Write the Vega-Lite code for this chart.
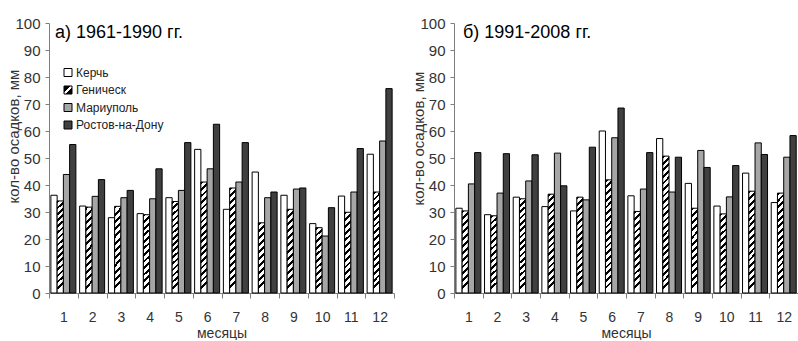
{
  "$schema": "https://vega.github.io/schema/vega-lite/v6.json",
  "background": "white",
  "padding": {"left": 6, "top": 16, "right": 0, "bottom": 0},
  "spacing": 16,
  "config": {
    "font": "Liberation Sans",
    "view": {"stroke": null},
    "axis": {
      "grid": false,
      "labelColor": "#333",
      "titleColor": "#333",
      "titleFontWeight": "normal",
      "domainColor": "#7f7f7f",
      "tickColor": "#7f7f7f"
    }
  },
  "datasets": {
    "precip": [
      {"period": "1961-1990", "month": 1, "station": "Керчь", "mm": 36.2},
      {"period": "1961-1990", "month": 1, "station": "Геническ", "mm": 34.1},
      {"period": "1961-1990", "month": 1, "station": "Мариуполь", "mm": 43.9},
      {"period": "1961-1990", "month": 1, "station": "Ростов-на-Дону", "mm": 55.0},
      {"period": "1961-1990", "month": 2, "station": "Керчь", "mm": 32.2},
      {"period": "1961-1990", "month": 2, "station": "Геническ", "mm": 31.8},
      {"period": "1961-1990", "month": 2, "station": "Мариуполь", "mm": 35.8},
      {"period": "1961-1990", "month": 2, "station": "Ростов-на-Дону", "mm": 42.0},
      {"period": "1961-1990", "month": 3, "station": "Керчь", "mm": 27.9},
      {"period": "1961-1990", "month": 3, "station": "Геническ", "mm": 32.1},
      {"period": "1961-1990", "month": 3, "station": "Мариуполь", "mm": 35.3},
      {"period": "1961-1990", "month": 3, "station": "Ростов-на-Дону", "mm": 38.0},
      {"period": "1961-1990", "month": 4, "station": "Керчь", "mm": 29.4},
      {"period": "1961-1990", "month": 4, "station": "Геническ", "mm": 29.0},
      {"period": "1961-1990", "month": 4, "station": "Мариуполь", "mm": 34.9},
      {"period": "1961-1990", "month": 4, "station": "Ростов-на-Дону", "mm": 46.0},
      {"period": "1961-1990", "month": 5, "station": "Керчь", "mm": 35.3},
      {"period": "1961-1990", "month": 5, "station": "Геническ", "mm": 33.9},
      {"period": "1961-1990", "month": 5, "station": "Мариуполь", "mm": 38.0},
      {"period": "1961-1990", "month": 5, "station": "Ростов-на-Дону", "mm": 55.7},
      {"period": "1961-1990", "month": 6, "station": "Керчь", "mm": 53.2},
      {"period": "1961-1990", "month": 6, "station": "Геническ", "mm": 41.1},
      {"period": "1961-1990", "month": 6, "station": "Мариуполь", "mm": 46.0},
      {"period": "1961-1990", "month": 6, "station": "Ростов-на-Дону", "mm": 62.5},
      {"period": "1961-1990", "month": 7, "station": "Керчь", "mm": 31.0},
      {"period": "1961-1990", "month": 7, "station": "Геническ", "mm": 38.9},
      {"period": "1961-1990", "month": 7, "station": "Мариуполь", "mm": 41.1},
      {"period": "1961-1990", "month": 7, "station": "Ростов-на-Дону", "mm": 55.7},
      {"period": "1961-1990", "month": 8, "station": "Керчь", "mm": 44.8},
      {"period": "1961-1990", "month": 8, "station": "Геническ", "mm": 26.0},
      {"period": "1961-1990", "month": 8, "station": "Мариуполь", "mm": 35.3},
      {"period": "1961-1990", "month": 8, "station": "Ростов-на-Дону", "mm": 37.4},
      {"period": "1961-1990", "month": 9, "station": "Керчь", "mm": 36.2},
      {"period": "1961-1990", "month": 9, "station": "Геническ", "mm": 31.0},
      {"period": "1961-1990", "month": 9, "station": "Мариуполь", "mm": 38.5},
      {"period": "1961-1990", "month": 9, "station": "Ростов-на-Дону", "mm": 38.9},
      {"period": "1961-1990", "month": 10, "station": "Керчь", "mm": 25.7},
      {"period": "1961-1990", "month": 10, "station": "Геническ", "mm": 24.2},
      {"period": "1961-1990", "month": 10, "station": "Мариуполь", "mm": 21.1},
      {"period": "1961-1990", "month": 10, "station": "Ростов-на-Дону", "mm": 31.6},
      {"period": "1961-1990", "month": 11, "station": "Керчь", "mm": 35.9},
      {"period": "1961-1990", "month": 11, "station": "Геническ", "mm": 29.9},
      {"period": "1961-1990", "month": 11, "station": "Мариуполь", "mm": 37.4},
      {"period": "1961-1990", "month": 11, "station": "Ростов-на-Дону", "mm": 53.5},
      {"period": "1961-1990", "month": 12, "station": "Керчь", "mm": 51.4},
      {"period": "1961-1990", "month": 12, "station": "Геническ", "mm": 37.4},
      {"period": "1961-1990", "month": 12, "station": "Мариуполь", "mm": 56.3},
      {"period": "1961-1990", "month": 12, "station": "Ростов-на-Дону", "mm": 75.7},
      {"period": "1991-2008", "month": 1, "station": "Керчь", "mm": 31.4},
      {"period": "1991-2008", "month": 1, "station": "Геническ", "mm": 30.4},
      {"period": "1991-2008", "month": 1, "station": "Мариуполь", "mm": 40.4},
      {"period": "1991-2008", "month": 1, "station": "Ростов-на-Дону", "mm": 52.0},
      {"period": "1991-2008", "month": 2, "station": "Керчь", "mm": 29.0},
      {"period": "1991-2008", "month": 2, "station": "Геническ", "mm": 28.6},
      {"period": "1991-2008", "month": 2, "station": "Мариуполь", "mm": 37.0},
      {"period": "1991-2008", "month": 2, "station": "Ростов-на-Дону", "mm": 51.6},
      {"period": "1991-2008", "month": 3, "station": "Керчь", "mm": 35.5},
      {"period": "1991-2008", "month": 3, "station": "Геническ", "mm": 34.9},
      {"period": "1991-2008", "month": 3, "station": "Мариуполь", "mm": 41.5},
      {"period": "1991-2008", "month": 3, "station": "Ростов-на-Дону", "mm": 51.2},
      {"period": "1991-2008", "month": 4, "station": "Керчь", "mm": 32.0},
      {"period": "1991-2008", "month": 4, "station": "Геническ", "mm": 36.6},
      {"period": "1991-2008", "month": 4, "station": "Мариуполь", "mm": 51.8},
      {"period": "1991-2008", "month": 4, "station": "Ростов-на-Дону", "mm": 39.7},
      {"period": "1991-2008", "month": 5, "station": "Керчь", "mm": 30.4},
      {"period": "1991-2008", "month": 5, "station": "Геническ", "mm": 35.5},
      {"period": "1991-2008", "month": 5, "station": "Мариуполь", "mm": 34.5},
      {"period": "1991-2008", "month": 5, "station": "Ростов-на-Дону", "mm": 54.0},
      {"period": "1991-2008", "month": 6, "station": "Керчь", "mm": 60.0},
      {"period": "1991-2008", "month": 6, "station": "Геническ", "mm": 41.9},
      {"period": "1991-2008", "month": 6, "station": "Мариуполь", "mm": 57.5},
      {"period": "1991-2008", "month": 6, "station": "Ростов-на-Дону", "mm": 68.5},
      {"period": "1991-2008", "month": 7, "station": "Керчь", "mm": 36.0},
      {"period": "1991-2008", "month": 7, "station": "Геническ", "mm": 30.2},
      {"period": "1991-2008", "month": 7, "station": "Мариуполь", "mm": 38.5},
      {"period": "1991-2008", "month": 7, "station": "Ростов-на-Дону", "mm": 52.0},
      {"period": "1991-2008", "month": 8, "station": "Керчь", "mm": 57.2},
      {"period": "1991-2008", "month": 8, "station": "Геническ", "mm": 50.7},
      {"period": "1991-2008", "month": 8, "station": "Мариуполь", "mm": 37.4},
      {"period": "1991-2008", "month": 8, "station": "Ростов-на-Дону", "mm": 50.3},
      {"period": "1991-2008", "month": 9, "station": "Керчь", "mm": 40.6},
      {"period": "1991-2008", "month": 9, "station": "Геническ", "mm": 31.4},
      {"period": "1991-2008", "month": 9, "station": "Мариуполь", "mm": 52.8},
      {"period": "1991-2008", "month": 9, "station": "Ростов-на-Дону", "mm": 46.5},
      {"period": "1991-2008", "month": 10, "station": "Керчь", "mm": 32.2},
      {"period": "1991-2008", "month": 10, "station": "Геническ", "mm": 29.3},
      {"period": "1991-2008", "month": 10, "station": "Мариуполь", "mm": 35.6},
      {"period": "1991-2008", "month": 10, "station": "Ростов-на-Дону", "mm": 47.2},
      {"period": "1991-2008", "month": 11, "station": "Керчь", "mm": 44.4},
      {"period": "1991-2008", "month": 11, "station": "Геническ", "mm": 37.7},
      {"period": "1991-2008", "month": 11, "station": "Мариуполь", "mm": 55.6},
      {"period": "1991-2008", "month": 11, "station": "Ростов-на-Дону", "mm": 51.3},
      {"period": "1991-2008", "month": 12, "station": "Керчь", "mm": 33.5},
      {"period": "1991-2008", "month": 12, "station": "Геническ", "mm": 37.0},
      {"period": "1991-2008", "month": 12, "station": "Мариуполь", "mm": 50.3},
      {"period": "1991-2008", "month": 12, "station": "Ростов-на-Дону", "mm": 58.3}
    ]
  },
  "hconcat": [
    {
      "width": 345,
      "height": 270,
      "data": {"name": "precip"},
      "transform": [{"filter": "datum.period === '1961-1990'"}],
      "title": {"text": "а) 1961-1990 гг.", "anchor": "start", "frame": "group", "orient": "top", "fontSize": 18, "fontWeight": "normal", "color": "#000", "baseline": "alphabetic", "offset": -18, "dx": 6, "dy": 22},
      "mark": {"type": "bar", "stroke": "#000", "strokeWidth": 1},
      "encoding": {
        "x": {
          "field": "month", "type": "ordinal",
          "scale": {"paddingInner": 0, "paddingOuter": 0},
          "axis": {"title": "месяцы", "labelAngle": 0, "tickBand": "extent", "tickSize": 5, "labelFontSize": 14, "labelPadding": 12, "titleFontSize": 14, "titleY": 44, "titleBaseline": "alphabetic"}
        },
        "xOffset": {
          "field": "station", "type": "nominal",
          "scale": {"domain": ["Керчь", "Геническ", "Мариуполь", "Ростов-на-Дону"], "paddingInner": 0, "paddingOuter": 0.3}
        },
        "y": {
          "field": "mm", "type": "quantitative",
          "scale": {"domain": [0, 100], "nice": false},
          "axis": {"values": [0, 10, 20, 30, 40, 50, 60, 70, 80, 90, 100], "title": "кол-во осадков, мм", "titleFontSize": 15, "titleAngle": -90, "titleX": -31, "titleY": 113, "titleAlign": "center", "titleBaseline": "alphabetic", "labelFontSize": 15, "labelPadding": 5, "tickSize": 4}
        },
        "fill": {
          "condition": [
            {"test": "datum.station === 'Геническ' && datum.mm < 28", "value": {"gradient": "linear", "x1": 0, "y1": 0, "x2": 0.092, "y2": 1, "stops": [
              {"offset": 0, "color": "#000"}, {"offset": 0.042, "color": "#000"}, {"offset": 0.042, "color": "#fff"}, {"offset": 0.1, "color": "#fff"},
              {"offset": 0.1, "color": "#000"}, {"offset": 0.142, "color": "#000"}, {"offset": 0.142, "color": "#fff"}, {"offset": 0.2, "color": "#fff"},
              {"offset": 0.2, "color": "#000"}, {"offset": 0.242, "color": "#000"}, {"offset": 0.242, "color": "#fff"}, {"offset": 0.3, "color": "#fff"},
              {"offset": 0.3, "color": "#000"}, {"offset": 0.342, "color": "#000"}, {"offset": 0.342, "color": "#fff"}, {"offset": 0.4, "color": "#fff"},
              {"offset": 0.4, "color": "#000"}, {"offset": 0.442, "color": "#000"}, {"offset": 0.442, "color": "#fff"}, {"offset": 0.5, "color": "#fff"},
              {"offset": 0.5, "color": "#000"}, {"offset": 0.542, "color": "#000"}, {"offset": 0.542, "color": "#fff"}, {"offset": 0.6, "color": "#fff"},
              {"offset": 0.6, "color": "#000"}, {"offset": 0.642, "color": "#000"}, {"offset": 0.642, "color": "#fff"}, {"offset": 0.7, "color": "#fff"},
              {"offset": 0.7, "color": "#000"}, {"offset": 0.742, "color": "#000"}, {"offset": 0.742, "color": "#fff"}, {"offset": 0.8, "color": "#fff"},
              {"offset": 0.8, "color": "#000"}, {"offset": 0.842, "color": "#000"}, {"offset": 0.842, "color": "#fff"}, {"offset": 0.9, "color": "#fff"},
              {"offset": 0.9, "color": "#000"}, {"offset": 0.942, "color": "#000"}, {"offset": 0.942, "color": "#fff"}, {"offset": 1, "color": "#fff"}
            ]}},
            {"test": "datum.station === 'Геническ' && datum.mm < 33", "value": {"gradient": "linear", "x1": 0, "y1": 0, "x2": 0.076, "y2": 1, "stops": [
              {"offset": 0, "color": "#000"}, {"offset": 0.035, "color": "#000"}, {"offset": 0.035, "color": "#fff"}, {"offset": 0.0833, "color": "#fff"},
              {"offset": 0.0833, "color": "#000"}, {"offset": 0.1183, "color": "#000"}, {"offset": 0.1183, "color": "#fff"}, {"offset": 0.1667, "color": "#fff"},
              {"offset": 0.1667, "color": "#000"}, {"offset": 0.2017, "color": "#000"}, {"offset": 0.2017, "color": "#fff"}, {"offset": 0.25, "color": "#fff"},
              {"offset": 0.25, "color": "#000"}, {"offset": 0.285, "color": "#000"}, {"offset": 0.285, "color": "#fff"}, {"offset": 0.3333, "color": "#fff"},
              {"offset": 0.3333, "color": "#000"}, {"offset": 0.3683, "color": "#000"}, {"offset": 0.3683, "color": "#fff"}, {"offset": 0.4167, "color": "#fff"},
              {"offset": 0.4167, "color": "#000"}, {"offset": 0.4517, "color": "#000"}, {"offset": 0.4517, "color": "#fff"}, {"offset": 0.5, "color": "#fff"},
              {"offset": 0.5, "color": "#000"}, {"offset": 0.535, "color": "#000"}, {"offset": 0.535, "color": "#fff"}, {"offset": 0.5833, "color": "#fff"},
              {"offset": 0.5833, "color": "#000"}, {"offset": 0.6183, "color": "#000"}, {"offset": 0.6183, "color": "#fff"}, {"offset": 0.6667, "color": "#fff"},
              {"offset": 0.6667, "color": "#000"}, {"offset": 0.7017, "color": "#000"}, {"offset": 0.7017, "color": "#fff"}, {"offset": 0.75, "color": "#fff"},
              {"offset": 0.75, "color": "#000"}, {"offset": 0.785, "color": "#000"}, {"offset": 0.785, "color": "#fff"}, {"offset": 0.8333, "color": "#fff"},
              {"offset": 0.8333, "color": "#000"}, {"offset": 0.8683, "color": "#000"}, {"offset": 0.8683, "color": "#fff"}, {"offset": 0.9167, "color": "#fff"},
              {"offset": 0.9167, "color": "#000"}, {"offset": 0.9517, "color": "#000"}, {"offset": 0.9517, "color": "#fff"}, {"offset": 1, "color": "#fff"}
            ]}},
            {"test": "datum.station === 'Геническ' && datum.mm < 39.5", "value": {"gradient": "linear", "x1": 0, "y1": 0, "x2": 0.064, "y2": 1, "stops": [
              {"offset": 0, "color": "#000"}, {"offset": 0.028, "color": "#000"}, {"offset": 0.028, "color": "#fff"}, {"offset": 0.0667, "color": "#fff"},
              {"offset": 0.0667, "color": "#000"}, {"offset": 0.0947, "color": "#000"}, {"offset": 0.0947, "color": "#fff"}, {"offset": 0.1333, "color": "#fff"},
              {"offset": 0.1333, "color": "#000"}, {"offset": 0.1613, "color": "#000"}, {"offset": 0.1613, "color": "#fff"}, {"offset": 0.2, "color": "#fff"},
              {"offset": 0.2, "color": "#000"}, {"offset": 0.228, "color": "#000"}, {"offset": 0.228, "color": "#fff"}, {"offset": 0.2667, "color": "#fff"},
              {"offset": 0.2667, "color": "#000"}, {"offset": 0.2947, "color": "#000"}, {"offset": 0.2947, "color": "#fff"}, {"offset": 0.3333, "color": "#fff"},
              {"offset": 0.3333, "color": "#000"}, {"offset": 0.3613, "color": "#000"}, {"offset": 0.3613, "color": "#fff"}, {"offset": 0.4, "color": "#fff"},
              {"offset": 0.4, "color": "#000"}, {"offset": 0.428, "color": "#000"}, {"offset": 0.428, "color": "#fff"}, {"offset": 0.4667, "color": "#fff"},
              {"offset": 0.4667, "color": "#000"}, {"offset": 0.4947, "color": "#000"}, {"offset": 0.4947, "color": "#fff"}, {"offset": 0.5333, "color": "#fff"},
              {"offset": 0.5333, "color": "#000"}, {"offset": 0.5613, "color": "#000"}, {"offset": 0.5613, "color": "#fff"}, {"offset": 0.6, "color": "#fff"},
              {"offset": 0.6, "color": "#000"}, {"offset": 0.628, "color": "#000"}, {"offset": 0.628, "color": "#fff"}, {"offset": 0.6667, "color": "#fff"},
              {"offset": 0.6667, "color": "#000"}, {"offset": 0.6947, "color": "#000"}, {"offset": 0.6947, "color": "#fff"}, {"offset": 0.7333, "color": "#fff"},
              {"offset": 0.7333, "color": "#000"}, {"offset": 0.7613, "color": "#000"}, {"offset": 0.7613, "color": "#fff"}, {"offset": 0.8, "color": "#fff"},
              {"offset": 0.8, "color": "#000"}, {"offset": 0.828, "color": "#000"}, {"offset": 0.828, "color": "#fff"}, {"offset": 0.8667, "color": "#fff"},
              {"offset": 0.8667, "color": "#000"}, {"offset": 0.8947, "color": "#000"}, {"offset": 0.8947, "color": "#fff"}, {"offset": 0.9333, "color": "#fff"},
              {"offset": 0.9333, "color": "#000"}, {"offset": 0.9613, "color": "#000"}, {"offset": 0.9613, "color": "#fff"}, {"offset": 1, "color": "#fff"}
            ]}},
            {"test": "datum.station === 'Геническ'", "value": {"gradient": "linear", "x1": 0, "y1": 0, "x2": 0.056, "y2": 1, "stops": [
              {"offset": 0, "color": "#000"}, {"offset": 0.0247, "color": "#000"}, {"offset": 0.0247, "color": "#fff"}, {"offset": 0.0588, "color": "#fff"},
              {"offset": 0.0588, "color": "#000"}, {"offset": 0.0835, "color": "#000"}, {"offset": 0.0835, "color": "#fff"}, {"offset": 0.1176, "color": "#fff"},
              {"offset": 0.1176, "color": "#000"}, {"offset": 0.1423, "color": "#000"}, {"offset": 0.1423, "color": "#fff"}, {"offset": 0.1765, "color": "#fff"},
              {"offset": 0.1765, "color": "#000"}, {"offset": 0.2012, "color": "#000"}, {"offset": 0.2012, "color": "#fff"}, {"offset": 0.2353, "color": "#fff"},
              {"offset": 0.2353, "color": "#000"}, {"offset": 0.26, "color": "#000"}, {"offset": 0.26, "color": "#fff"}, {"offset": 0.2941, "color": "#fff"},
              {"offset": 0.2941, "color": "#000"}, {"offset": 0.3188, "color": "#000"}, {"offset": 0.3188, "color": "#fff"}, {"offset": 0.3529, "color": "#fff"},
              {"offset": 0.3529, "color": "#000"}, {"offset": 0.3776, "color": "#000"}, {"offset": 0.3776, "color": "#fff"}, {"offset": 0.4118, "color": "#fff"},
              {"offset": 0.4118, "color": "#000"}, {"offset": 0.4365, "color": "#000"}, {"offset": 0.4365, "color": "#fff"}, {"offset": 0.4706, "color": "#fff"},
              {"offset": 0.4706, "color": "#000"}, {"offset": 0.4953, "color": "#000"}, {"offset": 0.4953, "color": "#fff"}, {"offset": 0.5294, "color": "#fff"},
              {"offset": 0.5294, "color": "#000"}, {"offset": 0.5541, "color": "#000"}, {"offset": 0.5541, "color": "#fff"}, {"offset": 0.5882, "color": "#fff"},
              {"offset": 0.5882, "color": "#000"}, {"offset": 0.6129, "color": "#000"}, {"offset": 0.6129, "color": "#fff"}, {"offset": 0.6471, "color": "#fff"},
              {"offset": 0.6471, "color": "#000"}, {"offset": 0.6718, "color": "#000"}, {"offset": 0.6718, "color": "#fff"}, {"offset": 0.7059, "color": "#fff"},
              {"offset": 0.7059, "color": "#000"}, {"offset": 0.7306, "color": "#000"}, {"offset": 0.7306, "color": "#fff"}, {"offset": 0.7647, "color": "#fff"},
              {"offset": 0.7647, "color": "#000"}, {"offset": 0.7894, "color": "#000"}, {"offset": 0.7894, "color": "#fff"}, {"offset": 0.8235, "color": "#fff"},
              {"offset": 0.8235, "color": "#000"}, {"offset": 0.8482, "color": "#000"}, {"offset": 0.8482, "color": "#fff"}, {"offset": 0.8824, "color": "#fff"},
              {"offset": 0.8824, "color": "#000"}, {"offset": 0.9071, "color": "#000"}, {"offset": 0.9071, "color": "#fff"}, {"offset": 0.9412, "color": "#fff"},
              {"offset": 0.9412, "color": "#000"}, {"offset": 0.9659, "color": "#000"}, {"offset": 0.9659, "color": "#fff"}, {"offset": 1, "color": "#fff"}
            ]}}
          ],
          "field": "station", "type": "nominal",
          "scale": {"domain": ["Керчь", "Геническ", "Мариуполь", "Ростов-на-Дону"], "range": ["#ffffff", {"expr": "{gradient: 'linear', x1: 0, y1: 0, x2: 1, y2: 1, stops: [{offset: 0, color: '#000'}, {offset: 0.4, color: '#000'}, {offset: 0.4, color: '#fff'}, {offset: 0.58, color: '#fff'}, {offset: 0.58, color: '#000'}, {offset: 1, color: '#000'}]}"}, "#a6a6a6", "#404040"]},
          "legend": {
            "orient": "none", "legendX": 13, "legendY": 43.5, "title": null,
            "symbolType": "square", "symbolSize": 64, "symbolStrokeColor": "#000", "symbolStrokeWidth": 1,
            "labelFontSize": 12, "labelColor": "#222", "labelOffset": 2, "rowPadding": 5.5, "padding": 0
          }
        }
      }
    },
    {
      "width": 344,
      "height": 270,
      "data": {"name": "precip"},
      "transform": [{"filter": "datum.period === '1991-2008'"}],
      "title": {"text": "б) 1991-2008 гг.", "anchor": "start", "frame": "group", "orient": "top", "fontSize": 18, "fontWeight": "normal", "color": "#000", "baseline": "alphabetic", "offset": -18, "dx": 9, "dy": 22},
      "mark": {"type": "bar", "stroke": "#000", "strokeWidth": 1},
      "encoding": {
        "x": {
          "field": "month", "type": "ordinal",
          "scale": {"paddingInner": 0, "paddingOuter": 0},
          "axis": {"title": "месяцы", "labelAngle": 0, "tickBand": "extent", "tickSize": 5, "labelFontSize": 14, "labelPadding": 12, "titleFontSize": 14, "titleY": 44, "titleBaseline": "alphabetic"}
        },
        "xOffset": {
          "field": "station", "type": "nominal",
          "scale": {"domain": ["Керчь", "Геническ", "Мариуполь", "Ростов-на-Дону"], "paddingInner": 0, "paddingOuter": 0.3}
        },
        "y": {
          "field": "mm", "type": "quantitative",
          "scale": {"domain": [0, 100], "nice": false},
          "axis": {"values": [0, 10, 20, 30, 40, 50, 60, 70, 80, 90, 100], "title": "кол-во осадков, мм", "titleFontSize": 15, "titleAngle": -90, "titleX": -31, "titleY": 115, "titleAlign": "center", "titleBaseline": "alphabetic", "labelFontSize": 15, "labelPadding": 5, "tickSize": 4}
        },
        "fill": {
          "condition": [
            {"test": "datum.station === 'Геническ' && datum.mm < 33", "value": {"gradient": "linear", "x1": 0, "y1": 0, "x2": 0.076, "y2": 1, "stops": [
              {"offset": 0, "color": "#000"}, {"offset": 0.035, "color": "#000"}, {"offset": 0.035, "color": "#fff"}, {"offset": 0.0833, "color": "#fff"},
              {"offset": 0.0833, "color": "#000"}, {"offset": 0.1183, "color": "#000"}, {"offset": 0.1183, "color": "#fff"}, {"offset": 0.1667, "color": "#fff"},
              {"offset": 0.1667, "color": "#000"}, {"offset": 0.2017, "color": "#000"}, {"offset": 0.2017, "color": "#fff"}, {"offset": 0.25, "color": "#fff"},
              {"offset": 0.25, "color": "#000"}, {"offset": 0.285, "color": "#000"}, {"offset": 0.285, "color": "#fff"}, {"offset": 0.3333, "color": "#fff"},
              {"offset": 0.3333, "color": "#000"}, {"offset": 0.3683, "color": "#000"}, {"offset": 0.3683, "color": "#fff"}, {"offset": 0.4167, "color": "#fff"},
              {"offset": 0.4167, "color": "#000"}, {"offset": 0.4517, "color": "#000"}, {"offset": 0.4517, "color": "#fff"}, {"offset": 0.5, "color": "#fff"},
              {"offset": 0.5, "color": "#000"}, {"offset": 0.535, "color": "#000"}, {"offset": 0.535, "color": "#fff"}, {"offset": 0.5833, "color": "#fff"},
              {"offset": 0.5833, "color": "#000"}, {"offset": 0.6183, "color": "#000"}, {"offset": 0.6183, "color": "#fff"}, {"offset": 0.6667, "color": "#fff"},
              {"offset": 0.6667, "color": "#000"}, {"offset": 0.7017, "color": "#000"}, {"offset": 0.7017, "color": "#fff"}, {"offset": 0.75, "color": "#fff"},
              {"offset": 0.75, "color": "#000"}, {"offset": 0.785, "color": "#000"}, {"offset": 0.785, "color": "#fff"}, {"offset": 0.8333, "color": "#fff"},
              {"offset": 0.8333, "color": "#000"}, {"offset": 0.8683, "color": "#000"}, {"offset": 0.8683, "color": "#fff"}, {"offset": 0.9167, "color": "#fff"},
              {"offset": 0.9167, "color": "#000"}, {"offset": 0.9517, "color": "#000"}, {"offset": 0.9517, "color": "#fff"}, {"offset": 1, "color": "#fff"}
            ]}},
            {"test": "datum.station === 'Геническ' && datum.mm < 39.5", "value": {"gradient": "linear", "x1": 0, "y1": 0, "x2": 0.064, "y2": 1, "stops": [
              {"offset": 0, "color": "#000"}, {"offset": 0.028, "color": "#000"}, {"offset": 0.028, "color": "#fff"}, {"offset": 0.0667, "color": "#fff"},
              {"offset": 0.0667, "color": "#000"}, {"offset": 0.0947, "color": "#000"}, {"offset": 0.0947, "color": "#fff"}, {"offset": 0.1333, "color": "#fff"},
              {"offset": 0.1333, "color": "#000"}, {"offset": 0.1613, "color": "#000"}, {"offset": 0.1613, "color": "#fff"}, {"offset": 0.2, "color": "#fff"},
              {"offset": 0.2, "color": "#000"}, {"offset": 0.228, "color": "#000"}, {"offset": 0.228, "color": "#fff"}, {"offset": 0.2667, "color": "#fff"},
              {"offset": 0.2667, "color": "#000"}, {"offset": 0.2947, "color": "#000"}, {"offset": 0.2947, "color": "#fff"}, {"offset": 0.3333, "color": "#fff"},
              {"offset": 0.3333, "color": "#000"}, {"offset": 0.3613, "color": "#000"}, {"offset": 0.3613, "color": "#fff"}, {"offset": 0.4, "color": "#fff"},
              {"offset": 0.4, "color": "#000"}, {"offset": 0.428, "color": "#000"}, {"offset": 0.428, "color": "#fff"}, {"offset": 0.4667, "color": "#fff"},
              {"offset": 0.4667, "color": "#000"}, {"offset": 0.4947, "color": "#000"}, {"offset": 0.4947, "color": "#fff"}, {"offset": 0.5333, "color": "#fff"},
              {"offset": 0.5333, "color": "#000"}, {"offset": 0.5613, "color": "#000"}, {"offset": 0.5613, "color": "#fff"}, {"offset": 0.6, "color": "#fff"},
              {"offset": 0.6, "color": "#000"}, {"offset": 0.628, "color": "#000"}, {"offset": 0.628, "color": "#fff"}, {"offset": 0.6667, "color": "#fff"},
              {"offset": 0.6667, "color": "#000"}, {"offset": 0.6947, "color": "#000"}, {"offset": 0.6947, "color": "#fff"}, {"offset": 0.7333, "color": "#fff"},
              {"offset": 0.7333, "color": "#000"}, {"offset": 0.7613, "color": "#000"}, {"offset": 0.7613, "color": "#fff"}, {"offset": 0.8, "color": "#fff"},
              {"offset": 0.8, "color": "#000"}, {"offset": 0.828, "color": "#000"}, {"offset": 0.828, "color": "#fff"}, {"offset": 0.8667, "color": "#fff"},
              {"offset": 0.8667, "color": "#000"}, {"offset": 0.8947, "color": "#000"}, {"offset": 0.8947, "color": "#fff"}, {"offset": 0.9333, "color": "#fff"},
              {"offset": 0.9333, "color": "#000"}, {"offset": 0.9613, "color": "#000"}, {"offset": 0.9613, "color": "#fff"}, {"offset": 1, "color": "#fff"}
            ]}},
            {"test": "datum.station === 'Геническ' && datum.mm < 46", "value": {"gradient": "linear", "x1": 0, "y1": 0, "x2": 0.056, "y2": 1, "stops": [
              {"offset": 0, "color": "#000"}, {"offset": 0.0247, "color": "#000"}, {"offset": 0.0247, "color": "#fff"}, {"offset": 0.0588, "color": "#fff"},
              {"offset": 0.0588, "color": "#000"}, {"offset": 0.0835, "color": "#000"}, {"offset": 0.0835, "color": "#fff"}, {"offset": 0.1176, "color": "#fff"},
              {"offset": 0.1176, "color": "#000"}, {"offset": 0.1423, "color": "#000"}, {"offset": 0.1423, "color": "#fff"}, {"offset": 0.1765, "color": "#fff"},
              {"offset": 0.1765, "color": "#000"}, {"offset": 0.2012, "color": "#000"}, {"offset": 0.2012, "color": "#fff"}, {"offset": 0.2353, "color": "#fff"},
              {"offset": 0.2353, "color": "#000"}, {"offset": 0.26, "color": "#000"}, {"offset": 0.26, "color": "#fff"}, {"offset": 0.2941, "color": "#fff"},
              {"offset": 0.2941, "color": "#000"}, {"offset": 0.3188, "color": "#000"}, {"offset": 0.3188, "color": "#fff"}, {"offset": 0.3529, "color": "#fff"},
              {"offset": 0.3529, "color": "#000"}, {"offset": 0.3776, "color": "#000"}, {"offset": 0.3776, "color": "#fff"}, {"offset": 0.4118, "color": "#fff"},
              {"offset": 0.4118, "color": "#000"}, {"offset": 0.4365, "color": "#000"}, {"offset": 0.4365, "color": "#fff"}, {"offset": 0.4706, "color": "#fff"},
              {"offset": 0.4706, "color": "#000"}, {"offset": 0.4953, "color": "#000"}, {"offset": 0.4953, "color": "#fff"}, {"offset": 0.5294, "color": "#fff"},
              {"offset": 0.5294, "color": "#000"}, {"offset": 0.5541, "color": "#000"}, {"offset": 0.5541, "color": "#fff"}, {"offset": 0.5882, "color": "#fff"},
              {"offset": 0.5882, "color": "#000"}, {"offset": 0.6129, "color": "#000"}, {"offset": 0.6129, "color": "#fff"}, {"offset": 0.6471, "color": "#fff"},
              {"offset": 0.6471, "color": "#000"}, {"offset": 0.6718, "color": "#000"}, {"offset": 0.6718, "color": "#fff"}, {"offset": 0.7059, "color": "#fff"},
              {"offset": 0.7059, "color": "#000"}, {"offset": 0.7306, "color": "#000"}, {"offset": 0.7306, "color": "#fff"}, {"offset": 0.7647, "color": "#fff"},
              {"offset": 0.7647, "color": "#000"}, {"offset": 0.7894, "color": "#000"}, {"offset": 0.7894, "color": "#fff"}, {"offset": 0.8235, "color": "#fff"},
              {"offset": 0.8235, "color": "#000"}, {"offset": 0.8482, "color": "#000"}, {"offset": 0.8482, "color": "#fff"}, {"offset": 0.8824, "color": "#fff"},
              {"offset": 0.8824, "color": "#000"}, {"offset": 0.9071, "color": "#000"}, {"offset": 0.9071, "color": "#fff"}, {"offset": 0.9412, "color": "#fff"},
              {"offset": 0.9412, "color": "#000"}, {"offset": 0.9659, "color": "#000"}, {"offset": 0.9659, "color": "#fff"}, {"offset": 1, "color": "#fff"}
            ]}},
            {"test": "datum.station === 'Геническ'", "value": {"gradient": "linear", "x1": 0, "y1": 0, "x2": 0.046, "y2": 1, "stops": [
              {"offset": 0, "color": "#000"}, {"offset": 0.02, "color": "#000"}, {"offset": 0.02, "color": "#fff"}, {"offset": 0.0476, "color": "#fff"},
              {"offset": 0.0476, "color": "#000"}, {"offset": 0.0676, "color": "#000"}, {"offset": 0.0676, "color": "#fff"}, {"offset": 0.0952, "color": "#fff"},
              {"offset": 0.0952, "color": "#000"}, {"offset": 0.1152, "color": "#000"}, {"offset": 0.1152, "color": "#fff"}, {"offset": 0.1429, "color": "#fff"},
              {"offset": 0.1429, "color": "#000"}, {"offset": 0.1629, "color": "#000"}, {"offset": 0.1629, "color": "#fff"}, {"offset": 0.1905, "color": "#fff"},
              {"offset": 0.1905, "color": "#000"}, {"offset": 0.2105, "color": "#000"}, {"offset": 0.2105, "color": "#fff"}, {"offset": 0.2381, "color": "#fff"},
              {"offset": 0.2381, "color": "#000"}, {"offset": 0.2581, "color": "#000"}, {"offset": 0.2581, "color": "#fff"}, {"offset": 0.2857, "color": "#fff"},
              {"offset": 0.2857, "color": "#000"}, {"offset": 0.3057, "color": "#000"}, {"offset": 0.3057, "color": "#fff"}, {"offset": 0.3333, "color": "#fff"},
              {"offset": 0.3333, "color": "#000"}, {"offset": 0.3533, "color": "#000"}, {"offset": 0.3533, "color": "#fff"}, {"offset": 0.381, "color": "#fff"},
              {"offset": 0.381, "color": "#000"}, {"offset": 0.401, "color": "#000"}, {"offset": 0.401, "color": "#fff"}, {"offset": 0.4286, "color": "#fff"},
              {"offset": 0.4286, "color": "#000"}, {"offset": 0.4486, "color": "#000"}, {"offset": 0.4486, "color": "#fff"}, {"offset": 0.4762, "color": "#fff"},
              {"offset": 0.4762, "color": "#000"}, {"offset": 0.4962, "color": "#000"}, {"offset": 0.4962, "color": "#fff"}, {"offset": 0.5238, "color": "#fff"},
              {"offset": 0.5238, "color": "#000"}, {"offset": 0.5438, "color": "#000"}, {"offset": 0.5438, "color": "#fff"}, {"offset": 0.5714, "color": "#fff"},
              {"offset": 0.5714, "color": "#000"}, {"offset": 0.5914, "color": "#000"}, {"offset": 0.5914, "color": "#fff"}, {"offset": 0.619, "color": "#fff"},
              {"offset": 0.619, "color": "#000"}, {"offset": 0.639, "color": "#000"}, {"offset": 0.639, "color": "#fff"}, {"offset": 0.6667, "color": "#fff"},
              {"offset": 0.6667, "color": "#000"}, {"offset": 0.6867, "color": "#000"}, {"offset": 0.6867, "color": "#fff"}, {"offset": 0.7143, "color": "#fff"},
              {"offset": 0.7143, "color": "#000"}, {"offset": 0.7343, "color": "#000"}, {"offset": 0.7343, "color": "#fff"}, {"offset": 0.7619, "color": "#fff"},
              {"offset": 0.7619, "color": "#000"}, {"offset": 0.7819, "color": "#000"}, {"offset": 0.7819, "color": "#fff"}, {"offset": 0.8095, "color": "#fff"},
              {"offset": 0.8095, "color": "#000"}, {"offset": 0.8295, "color": "#000"}, {"offset": 0.8295, "color": "#fff"}, {"offset": 0.8571, "color": "#fff"},
              {"offset": 0.8571, "color": "#000"}, {"offset": 0.8771, "color": "#000"}, {"offset": 0.8771, "color": "#fff"}, {"offset": 0.9048, "color": "#fff"},
              {"offset": 0.9048, "color": "#000"}, {"offset": 0.9248, "color": "#000"}, {"offset": 0.9248, "color": "#fff"}, {"offset": 0.9524, "color": "#fff"},
              {"offset": 0.9524, "color": "#000"}, {"offset": 0.9724, "color": "#000"}, {"offset": 0.9724, "color": "#fff"}, {"offset": 1, "color": "#fff"}
            ]}}
          ],
          "field": "station", "type": "nominal",
          "scale": {"domain": ["Керчь", "Геническ", "Мариуполь", "Ростов-на-Дону"], "range": ["#ffffff", {"expr": "{gradient: 'linear', x1: 0, y1: 0, x2: 1, y2: 1, stops: [{offset: 0, color: '#000'}, {offset: 0.4, color: '#000'}, {offset: 0.4, color: '#fff'}, {offset: 0.58, color: '#fff'}, {offset: 0.58, color: '#000'}, {offset: 1, color: '#000'}]}"}, "#a6a6a6", "#404040"]},
          "legend": {
            "orient": "none", "legendX": 17, "legendY": 44.5, "title": null,
            "symbolType": "square", "symbolSize": 64, "symbolStrokeColor": "#000", "symbolStrokeWidth": 1,
            "labelFontSize": 12, "labelColor": "#222", "labelOffset": 2, "rowPadding": 5.5, "padding": 0
          }
        }
      }
    }
  ]
}
